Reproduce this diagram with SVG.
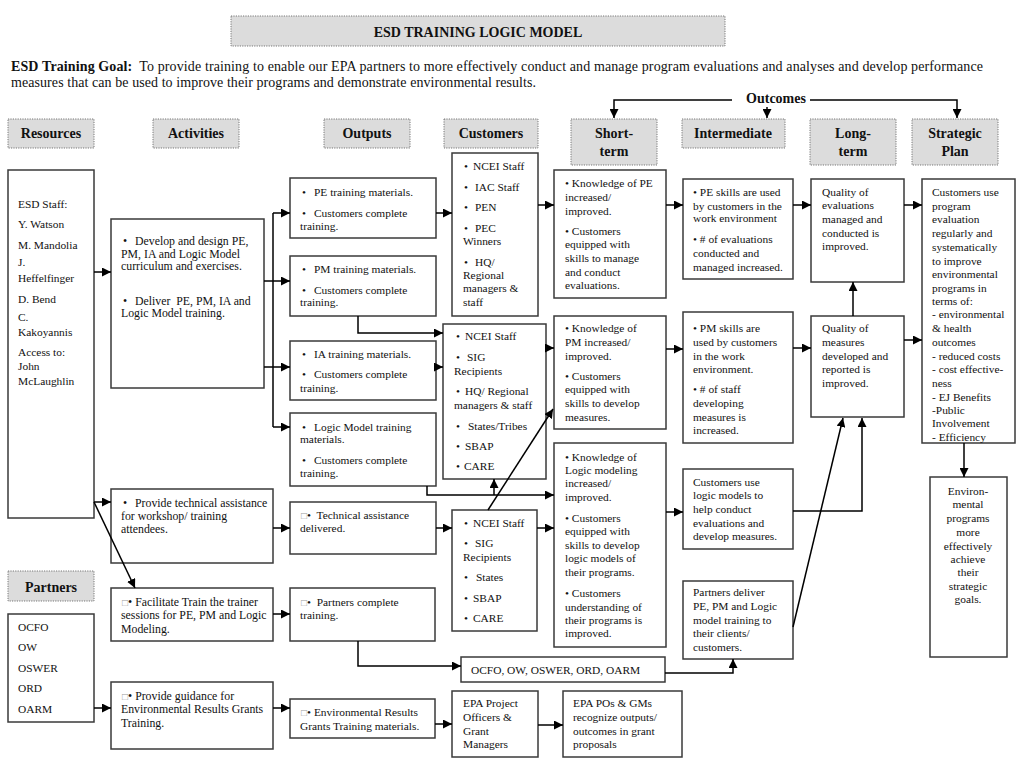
<svg xmlns="http://www.w3.org/2000/svg" width="1024" height="768" viewBox="0 0 1024 768">
<defs>
<marker id="ah" markerUnits="userSpaceOnUse" markerWidth="10" markerHeight="9" refX="9" refY="4.5" orient="auto">
<path d="M0,0 L9,4.5 L0,9 z" fill="#000"/>
</marker>
<style>
.hdr{fill:#dcdcdc;stroke:#777;stroke-width:1;stroke-dasharray:1.2,1.2}
.box{fill:#fff;stroke:#3a3a3a;stroke-width:1.5}
text{font-family:"Liberation Serif","Times New Roman",serif;font-size:11.4px;fill:#111}
.h{font-weight:bold;font-size:14px;text-anchor:middle}
.a{font-size:11.8px}
.c{fill:none;stroke:#000;stroke-width:1.5}
.arr{marker-end:url(#ah)}
.sq{fill:#999;font-size:10px}
.mid{text-anchor:middle}
</style>
</defs>
<rect width="1024" height="768" fill="#fff"/>

<g id="title">
<rect class="hdr" x="231" y="16" width="494" height="30"/>
<text class="h" x="478" y="37">ESD TRAINING LOGIC MODEL</text>
</g>

<g id="goal">
<text x="11" y="71" style="font-size:14px" textLength="972" lengthAdjust="spacing"><tspan font-weight="bold">ESD Training Goal:</tspan>&#160; To provide training to enable our EPA partners to more effectively conduct and manage program evaluations and analyses and develop performance</text>
<text x="11" y="87" style="font-size:14px" textLength="525" lengthAdjust="spacing">measures that can be used to improve their programs and demonstrate environmental results.</text>
</g>

<g id="outcomes">
<text class="h" x="776" y="103">Outcomes</text>
</g>

<g id="headers">
<g id="h-resources"><rect class="hdr" x="8" y="119" width="86" height="29"/><text class="h" x="51" y="138">Resources</text></g>
<g id="h-activities"><rect class="hdr" x="153" y="119" width="86" height="29"/><text class="h" x="196" y="138">Activities</text></g>
<g id="h-outputs"><rect class="hdr" x="324" y="119" width="86" height="29"/><text class="h" x="367" y="138">Outputs</text></g>
<g id="h-customers"><rect class="hdr" x="444" y="119" width="94" height="29"/><text class="h" x="491" y="138">Customers</text></g>
<g id="h-short"><rect class="hdr" x="571" y="119" width="86" height="46"/><text class="h" x="614" y="138">Short-</text><text class="h" x="614" y="156">term</text></g>
<g id="h-intermediate"><rect class="hdr" x="682" y="119" width="103" height="29"/><text class="h" x="733" y="138">Intermediate</text></g>
<g id="h-long"><rect class="hdr" x="810" y="119" width="86" height="46"/><text class="h" x="853" y="138">Long-</text><text class="h" x="853" y="156">term</text></g>
<g id="h-strategic"><rect class="hdr" x="912" y="119" width="86" height="46"/><text class="h" x="955" y="138">Strategic</text><text class="h" x="955" y="156">Plan</text></g>
<g id="h-partners"><rect class="hdr" x="8" y="571" width="86" height="30"/><text class="h" x="51" y="592">Partners</text></g>
</g>

<g id="esd-staff">
<rect class="box" x="8" y="170" width="86" height="348"/>
<text x="18" y="208">ESD Staff:</text>
<text x="18" y="228">Y. Watson</text>
<text x="18" y="249">M. Mandolia</text>
<text x="18" y="266">J.</text>
<text x="18" y="282">Heffelfinger</text>
<text x="18" y="303">D. Bend</text>
<text x="18" y="321">C.</text>
<text x="18" y="336">Kakoyannis</text>
<text x="18" y="356">Access to:</text>
<text x="18" y="370">John</text>
<text x="18" y="385">McLaughlin</text>
</g>

<g id="act-develop">
<rect class="box" x="111" y="219" width="153" height="169"/>
<text class="a"><tspan x="123" y="245">•</tspan><tspan x="135" y="245">Develop and design PE,</tspan><tspan x="121" y="257.5">PM, IA and Logic Model</tspan><tspan x="121" y="270">curriculum and exercises.</tspan></text>
<text class="a"><tspan x="123" y="305">•</tspan><tspan x="135" y="305">Deliver&#160; PE, PM, IA and</tspan><tspan x="121" y="317">Logic Model training.</tspan></text>
</g>

<g id="act-ta">
<rect class="box" x="111" y="489" width="162" height="74"/>
<text class="a"><tspan x="123" y="507">•</tspan><tspan x="135" y="507">Provide technical assistance</tspan><tspan x="121" y="520">for workshop/ training</tspan><tspan x="121" y="533">attendees.</tspan></text>
</g>

<g id="act-facilitate">
<rect class="box" x="111" y="588" width="162" height="53"/>
<text class="a"><tspan x="122" y="606" class="sq">□</tspan><tspan>• Facilitate Train the trainer</tspan><tspan x="121" y="619">sessions for PE, PM and Logic</tspan><tspan x="121" y="633">Modeling.</tspan></text>
</g>

<g id="act-guidance">
<rect class="box" x="111" y="682" width="162" height="67"/>
<text class="a"><tspan x="122" y="700" class="sq">□</tspan><tspan>• Provide guidance for</tspan><tspan x="121" y="713">Environmental Results Grants</tspan><tspan x="121" y="727">Training.</tspan></text>
</g>

<g id="partners-list">
<rect class="box" x="8" y="614" width="86" height="108"/>
<text x="18" y="631">OCFO</text>
<text x="18" y="651">OW</text>
<text x="18" y="672">OSWER</text>
<text x="18" y="692">ORD</text>
<text x="18" y="713">OARM</text>
</g>

<g id="out-pe">
<rect class="box" x="290" y="178" width="146" height="60"/>
<text><tspan x="302" y="196">•</tspan><tspan x="314" y="196">PE training materials.</tspan></text>
<text><tspan x="302" y="217">•</tspan><tspan x="314" y="217">Customers complete</tspan><tspan x="300" y="230">training.</tspan></text>
</g>

<g id="out-pm">
<rect class="box" x="290" y="256" width="146" height="60"/>
<text><tspan x="302" y="273">•</tspan><tspan x="314" y="273">PM training materials.</tspan></text>
<text><tspan x="302" y="294">•</tspan><tspan x="314" y="294">Customers complete</tspan><tspan x="300" y="306">training.</tspan></text>
</g>

<g id="out-ia">
<rect class="box" x="290" y="341" width="146" height="59"/>
<text><tspan x="302" y="358">•</tspan><tspan x="314" y="358">IA training materials.</tspan></text>
<text><tspan x="302" y="378">•</tspan><tspan x="314" y="378">Customers complete</tspan><tspan x="300" y="392">training.</tspan></text>
</g>

<g id="out-lm">
<rect class="box" x="290" y="413" width="146" height="73"/>
<text><tspan x="302" y="431">•</tspan><tspan x="314" y="431">Logic Model training</tspan><tspan x="300" y="443">materials.</tspan></text>
<text><tspan x="302" y="464">•</tspan><tspan x="314" y="464">Customers complete</tspan><tspan x="300" y="477">training.</tspan></text>
</g>

<g id="out-ta">
<rect class="box" x="290" y="502" width="146" height="52"/>
<text><tspan x="301" y="519" class="sq">□</tspan><tspan>•&#160; Technical assistance</tspan><tspan x="300" y="532">delivered.</tspan></text>
</g>

<g id="out-partners">
<rect class="box" x="290" y="588" width="145" height="53"/>
<text><tspan x="301" y="606" class="sq">□</tspan><tspan>•&#160; Partners complete</tspan><tspan x="300" y="619">training.</tspan></text>
</g>

<g id="out-env">
<rect class="box" x="290" y="699" width="145" height="39"/>
<text><tspan x="301" y="716" class="sq">□</tspan><tspan>• Environmental Results</tspan><tspan x="300" y="730">Grants Training materials.</tspan></text>
</g>

<g id="cust-1">
<rect class="box" x="452" y="153" width="86" height="163"/>
<text><tspan x="464" y="170">•</tspan><tspan x="473" y="170">NCEI Staff</tspan></text>
<text><tspan x="464" y="191">•</tspan><tspan x="475" y="191">IAC Staff</tspan></text>
<text><tspan x="464" y="211">•</tspan><tspan x="475" y="211">PEN</tspan></text>
<text><tspan x="464" y="232">•</tspan><tspan x="475" y="232">PEC</tspan><tspan x="463" y="245">Winners</tspan></text>
<text><tspan x="464" y="266">•</tspan><tspan x="475" y="266">HQ/</tspan><tspan x="463" y="279">Regional</tspan><tspan x="463" y="292">managers &amp;</tspan><tspan x="463" y="306">staff</tspan></text>
</g>

<g id="cust-2">
<rect class="box" x="443" y="324" width="103" height="155"/>
<text><tspan x="456" y="340">•</tspan><tspan x="465" y="340">NCEI Staff</tspan></text>
<text><tspan x="456" y="361">•</tspan><tspan x="467" y="361">SIG</tspan><tspan x="454" y="375">Recipients</tspan></text>
<text><tspan x="456" y="395">•</tspan><tspan x="465" y="395">HQ/ Regional</tspan><tspan x="454" y="409">managers &amp; staff</tspan></text>
<text><tspan x="456" y="430">•</tspan><tspan x="468" y="430">States/Tribes</tspan></text>
<text><tspan x="456" y="450">•</tspan><tspan x="465" y="450">SBAP</tspan></text>
<text><tspan x="456" y="470">•</tspan><tspan x="464" y="470">CARE</tspan></text>
</g>

<g id="cust-3">
<rect class="box" x="452" y="510" width="85" height="121"/>
<text><tspan x="464" y="527">•</tspan><tspan x="473" y="527">NCEI Staff</tspan></text>
<text><tspan x="464" y="547">•</tspan><tspan x="475" y="547">SIG</tspan><tspan x="463" y="561">Recipients</tspan></text>
<text><tspan x="464" y="581">•</tspan><tspan x="476" y="581">States</tspan></text>
<text><tspan x="464" y="602">•</tspan><tspan x="473" y="602">SBAP</tspan></text>
<text><tspan x="464" y="622">•</tspan><tspan x="473" y="622">CARE</tspan></text>
</g>

<g id="cust-partners">
<rect class="box" x="461" y="657" width="204" height="25"/>
<text x="471" y="674">OCFO, OW, OSWER, ORD, OARM</text>
</g>

<g id="cust-epa">
<rect class="box" x="452" y="691" width="86" height="66"/>
<text x="463" y="707">EPA Project</text>
<text x="463" y="721">Officers &amp;</text>
<text x="463" y="735">Grant</text>
<text x="463" y="748">Managers</text>
</g>

<g id="st-pe">
<rect class="box" x="554" y="170" width="112" height="128"/>
<text x="565" y="187">• Knowledge of PE</text>
<text x="565" y="201">increased/</text>
<text x="565" y="215">improved.</text>
<text x="565" y="235">• Customers</text>
<text x="565" y="248">equipped with</text>
<text x="565" y="262">skills to manage</text>
<text x="565" y="276">and conduct</text>
<text x="565" y="289">evaluations.</text>
</g>

<g id="st-pm">
<rect class="box" x="554" y="316" width="112" height="113"/>
<text x="565" y="332">• Knowledge of</text>
<text x="565" y="346">PM increased/</text>
<text x="565" y="360">improved.</text>
<text x="565" y="380">• Customers</text>
<text x="565" y="393">equipped with</text>
<text x="565" y="407">skills to develop</text>
<text x="565" y="421">measures.</text>
</g>

<g id="st-lm">
<rect class="box" x="554" y="443" width="112" height="204"/>
<text x="565" y="461">• Knowledge of</text>
<text x="565" y="474">Logic modeling</text>
<text x="565" y="487">increased/</text>
<text x="565" y="501">improved.</text>
<text x="565" y="522">• Customers</text>
<text x="565" y="535">equipped with</text>
<text x="565" y="549">skills to develop</text>
<text x="565" y="562">logic models of</text>
<text x="565" y="576">their programs.</text>
<text x="565" y="597">• Customers</text>
<text x="565" y="611">understanding of</text>
<text x="565" y="624">their programs is</text>
<text x="565" y="637">improved.</text>
</g>

<g id="st-epa">
<rect class="box" x="563" y="691" width="119" height="66"/>
<text x="573" y="707">EPA POs &amp; GMs</text>
<text x="573" y="721">recognize outputs/</text>
<text x="573" y="735">outcomes in grant</text>
<text x="573" y="748">proposals</text>
</g>

<g id="im-pe">
<rect class="box" x="683" y="179" width="110" height="100"/>
<text x="693" y="196">• PE skills are used</text>
<text x="693" y="210">by customers in the</text>
<text x="693" y="222">work environment</text>
<text x="693" y="243">• # of evaluations</text>
<text x="693" y="257">conducted and</text>
<text x="693" y="271">managed increased.</text>
</g>

<g id="im-pm">
<rect class="box" x="683" y="312" width="110" height="131"/>
<text x="693" y="332">• PM skills are</text>
<text x="693" y="346">used by customers</text>
<text x="693" y="360">in the work</text>
<text x="693" y="373">environment.</text>
<text x="693" y="393">• # of staff</text>
<text x="693" y="407">developing</text>
<text x="693" y="421">measures is</text>
<text x="693" y="434">increased.</text>
</g>

<g id="im-lm">
<rect class="box" x="683" y="469" width="110" height="80"/>
<text x="693" y="486">Customers use</text>
<text x="693" y="499">logic models to</text>
<text x="693" y="513">help conduct</text>
<text x="693" y="527">evaluations and</text>
<text x="693" y="540">develop measures.</text>
</g>

<g id="im-partners">
<rect class="box" x="683" y="581" width="110" height="78"/>
<text x="693" y="596">Partners deliver</text>
<text x="693" y="610">PE, PM and Logic</text>
<text x="693" y="624">model training to</text>
<text x="693" y="637">their clients/</text>
<text x="693" y="651">customers.</text>
</g>

<g id="lt-eval">
<rect class="box" x="811" y="179" width="93" height="103"/>
<text x="822" y="196">Quality of</text>
<text x="822" y="209">evaluations</text>
<text x="822" y="223">managed and</text>
<text x="822" y="237">conducted is</text>
<text x="822" y="250">improved.</text>
</g>

<g id="lt-meas">
<rect class="box" x="811" y="316" width="93" height="101"/>
<text x="822" y="332">Quality of</text>
<text x="822" y="346">measures</text>
<text x="822" y="360">developed and</text>
<text x="822" y="373">reported is</text>
<text x="822" y="387">improved.</text>
</g>

<g id="sp-customers">
<rect class="box" x="922" y="179" width="93" height="264"/>
<text x="932" y="196">Customers use</text>
<text x="932" y="210">program</text>
<text x="932" y="223">evaluation</text>
<text x="932" y="237">regularly and</text>
<text x="932" y="251">systematically</text>
<text x="932" y="265">to improve</text>
<text x="932" y="278">environmental</text>
<text x="932" y="292">programs in</text>
<text x="932" y="305">terms of:</text>
<text x="932" y="318">- environmental</text>
<text x="932" y="332">&amp; health</text>
<text x="932" y="346">outcomes</text>
<text x="932" y="360">- reduced costs</text>
<text x="932" y="373">- cost effective-</text>
<text x="932" y="387">ness</text>
<text x="932" y="401">- EJ Benefits</text>
<text x="932" y="414">-Public</text>
<text x="932" y="427">Involvement</text>
<text x="932" y="441">- Efficiency</text>
</g>

<g id="sp-env">
<rect class="box" x="930" y="477" width="77" height="180"/>
<text class="mid" x="968" y="495">Environ-</text>
<text class="mid" x="968" y="508">mental</text>
<text class="mid" x="968" y="522">programs</text>
<text class="mid" x="968" y="536">more</text>
<text class="mid" x="968" y="550">effectively</text>
<text class="mid" x="968" y="563">achieve</text>
<text class="mid" x="968" y="576">their</text>
<text class="mid" x="968" y="590">strategic</text>
<text class="mid" x="968" y="603">goals.</text>
</g>

<g id="connectors">
<path class="c arr" d="M732,100 H614 V118"/>
<path class="c arr" d="M767,107 V118"/>
<path class="c arr" d="M810,100 H957 V118"/>
<path class="c arr" d="M94,272 H111"/>
<path class="c" d="M273,213 V427"/>
<path class="c arr" d="M273,213 H290"/>
<path class="c arr" d="M264,281 H290"/>
<path class="c arr" d="M264,367 H290"/>
<path class="c arr" d="M273,427 H290"/>
<path class="c arr" d="M436,213 H452"/>
<path class="c arr" d="M358,316 V333 H443"/>
<path class="c arr" d="M436,367 H443"/>
<path class="c arr" d="M427,486 V495 H554"/>
<path class="c arr" d="M494,495 V479"/>
<path class="c arr" d="M538,205 H554"/>
<path class="c arr" d="M546,348 H554"/>
<path class="c arr" d="M94,502 H111"/>
<path class="c arr" d="M94,502 L135,588"/>
<path class="c arr" d="M273,528 H290"/>
<path class="c arr" d="M436,528 H452"/>
<path class="c arr" d="M488,510 L553,409"/>
<path class="c arr" d="M537,528 H554"/>
<path class="c arr" d="M666,205 H683"/>
<path class="c arr" d="M666,349 H683"/>
<path class="c arr" d="M666,512 H683"/>
<path class="c arr" d="M793,511 H862 V418"/>
<path class="c arr" d="M793,627 L843,418"/>
<path class="c arr" d="M793,205 H811"/>
<path class="c arr" d="M793,348 H811"/>
<path class="c arr" d="M853,316 V282"/>
<path class="c arr" d="M904,205 H922"/>
<path class="c arr" d="M904,340 H922"/>
<path class="c arr" d="M964,443 V477"/>
<path class="c arr" d="M273,614 H290"/>
<path class="c arr" d="M358,641 V666 H461"/>
<path class="c arr" d="M665,673 H733 V659"/>
<path class="c arr" d="M94,708 H111"/>
<path class="c arr" d="M273,708 H290"/>
<path class="c arr" d="M435,724 H452"/>
<path class="c arr" d="M538,725 H563"/>
</g>
</svg>
